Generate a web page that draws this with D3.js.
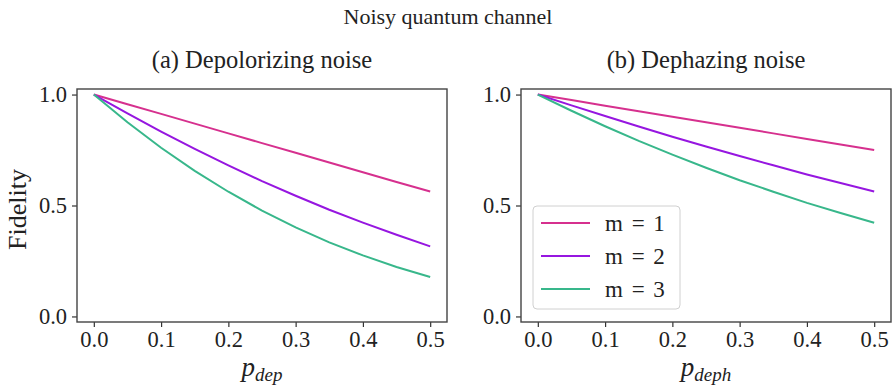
<!DOCTYPE html>
<html><head><meta charset="utf-8">
<script src="https://cdn.jsdelivr.net/npm/d3@7/dist/d3.min.js"></script>
<style>body{margin:0;background:#fff}svg{display:block}</style>
</head><body><svg id="c" width="895" height="386"></svg>
<script>
const pValues = [0, 0.05, 0.1, 0.15, 0.2, 0.25, 0.3, 0.35, 0.4, 0.45, 0.5];
const depM1 = [1, 0.956, 0.913, 0.869, 0.825, 0.781, 0.738, 0.694, 0.650, 0.606, 0.563];
const depM2 = [1, 0.915, 0.833, 0.755, 0.681, 0.610, 0.544, 0.481, 0.423, 0.368, 0.316];
const depM3 = [1, 0.875, 0.760, 0.656, 0.562, 0.477, 0.401, 0.334, 0.275, 0.223, 0.178];
const dephM1 = [1, 0.975, 0.950, 0.925, 0.900, 0.875, 0.850, 0.825, 0.800, 0.775, 0.750];
const dephM2 = [1, 0.951, 0.903, 0.856, 0.810, 0.766, 0.723, 0.681, 0.640, 0.601, 0.563];
const dephM3 = [1, 0.927, 0.857, 0.791, 0.729, 0.670, 0.614, 0.562, 0.512, 0.466, 0.422];
const seriesLabels = ["m = 1", "m = 2", "m = 3"];
const colors = ["#d6308e", "#9616e0", "#38b78b"];
const xTicks = [0, 0.1, 0.2, 0.3, 0.4, 0.5];
const yTicks = [0, 0.5, 1.0];
const panels = [
  {title: "(a) Depolorizing noise", sub: "dep", series: [depM1, depM2, depM3], x0: 77, x1: 447, legend: false},
  {title: "(b) Dephazing noise", sub: "deph", series: [dephM1, dephM2, dephM3], x0: 521, x1: 891, legend: true}
];
(function () {
const FONT = "Liberation Serif";
const svg = d3.select("#c");
const plotTop = 89, plotBottom = 322;
const txt = (sel) => sel.attr("font-family", FONT).attr("fill", "#222");
txt(svg.append("text")).attr("x", 448).attr("y", 24).attr("text-anchor", "middle")
  .attr("font-size", 22).text("Noisy quantum channel");
const y = d3.scaleLinear().domain([-0.025, 1.025]).range([plotBottom, plotTop]);
panels.forEach((P, i) => {
  const x = d3.scaleLinear().domain([-0.025, 0.525]).range([P.x0, P.x1]);
  const g = svg.append("g");
  txt(g.append("text")).attr("x", (P.x0 + P.x1) / 2).attr("y", 68).attr("text-anchor", "middle")
    .attr("font-size", 24.5).text(P.title);
  const line = d3.line().x((d, j) => x(pValues[j])).y(d => y(d));
  P.series.forEach((s, k) => {
    g.append("path").datum(s).attr("d", line).attr("fill", "none")
      .attr("stroke", colors[k]).attr("stroke-width", 2);
  });
  const xa = g.append("g").attr("transform", `translate(0,${plotBottom})`)
    .call(d3.axisBottom(x).tickValues(xTicks).tickFormat(d3.format(".1f")).tickSize(5).tickPadding(4));
  const ya = g.append("g").attr("transform", `translate(${P.x0},0)`)
    .call(d3.axisLeft(y).tickValues(yTicks).tickFormat(d3.format(".1f")).tickSize(5).tickPadding(5));
  [xa, ya].forEach(a => {
    a.select(".domain").remove();
    a.attr("font-family", FONT).attr("font-size", 22.5);
    a.selectAll("line").attr("stroke", "#333").attr("stroke-width", 1.2);
    a.selectAll("text").attr("fill", "#222");
  });
  g.append("rect").attr("x", P.x0).attr("y", plotTop).attr("width", P.x1 - P.x0).attr("height", plotBottom - plotTop)
    .attr("fill", "none").attr("stroke", "#444").attr("stroke-width", 1.4);
  const xl = txt(g.append("text")).attr("x", (P.x0 + P.x1) / 2).attr("y", 376).attr("text-anchor", "middle")
    .attr("font-size", 27).attr("font-style", "italic");
  xl.append("tspan").text("p");
  xl.append("tspan").attr("dy", 5).attr("font-size", 19).text(P.sub);
  if (i === 0) {
    txt(g.append("text")).attr("transform", `translate(26,${(plotTop + plotBottom) / 2 + 4}) rotate(-90)`)
      .attr("text-anchor", "middle").attr("font-size", 26).text("Fidelity");
  }
  if (P.legend) {
    const lg = g.append("g");
    lg.append("rect").attr("x", 533).attr("y", 206).attr("width", 147).attr("height", 103).attr("rx", 4)
      .attr("fill", "#fff").attr("fill-opacity", 0.8).attr("stroke", "#d0d0d0").attr("stroke-width", 1);
    seriesLabels.forEach((lab, k) => {
      const yy = 223 + k * 33;
      lg.append("line").attr("x1", 541).attr("x2", 590).attr("y1", yy).attr("y2", yy)
        .attr("stroke", colors[k]).attr("stroke-width", 2);
      txt(lg.append("text")).attr("x", 605).attr("y", yy + 8).attr("font-size", 23)
        .attr("word-spacing", 3).text(lab);
    });
  }
});
})();
</script></body></html>
